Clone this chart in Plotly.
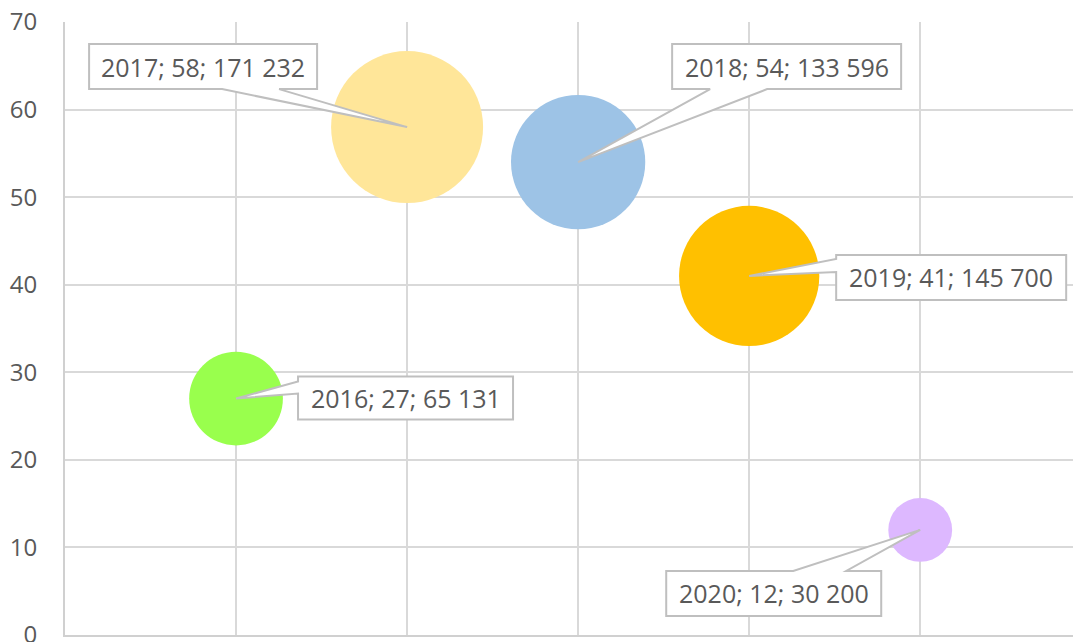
import plotly.graph_objects as go

# ---- data ----
years = [2016, 2017, 2018, 2019, 2020]
values = [27, 58, 54, 41, 12]
volumes = [65131, 171232, 133596, 145700, 30200]
labels = ["2016; 27; 65 131", "2017; 58; 171 232", "2018; 54; 133 596",
          "2019; 41; 145 700", "2020; 12; 30 200"]
colors = ["#99FF4D", "#FFE699", "#9DC3E6", "#FFC000", "#DDB8FF"]

# ---- layout geometry (page body has an 8px margin) ----
W, H = 1073, 634
ML, MR, MT, MB = 57, 0, 14, 7
XR = [2015, 2020.94]
YR = [0, 70]
plot_w = W - ML - MR
plot_h = H - MT - MB
pxx = plot_w / (XR[1] - XR[0])
pxy = plot_h / (YR[1] - YR[0])

# callout boxes relative to the point in pixels: (left, right, top, bottom), wedge edge, base positions
callouts = [
    ((62, 277, -22, 21), "left", (-17, -5)),
    ((-318, -90, -83, -38), "bottom", (-185, -128)),
    ((94, 323, -118, -73), "bottom", (132, 189)),
    ((87, 317, -21, 24), "left", (-17, -4)),
    ((-254, -39, 41, 86), "top", (-127, -74)),
]

FONT = "Open Sans"
TXT = "#595959"

sizeref = 2 * max(volumes) / (152 ** 2)

fig = go.Figure()
fig.add_trace(go.Scatter(
    x=years, y=values, mode="markers",
    marker=dict(size=volumes, sizemode="area", sizeref=sizeref,
                color=colors, opacity=1, line=dict(width=0)),
    hoverinfo="skip", showlegend=False,
))

shapes = []
annotations = []
for x, y, lab, (box, edge, base) in zip(years, values, labels, callouts):
    l, r, t, b = box
    if edge == "bottom":
        pts = [(l, t), (r, t), (r, b), (base[1], b), (0, 0), (base[0], b), (l, b)]
    elif edge == "left":
        pts = [(l, t), (r, t), (r, b), (l, b), (l, base[1]), (0, 0), (l, base[0])]
    else:  # top
        pts = [(l, t), (base[0], t), (0, 0), (base[1], t), (r, t), (r, b), (l, b)]
    path = ""
    for i, (px, py) in enumerate(pts):
        dx = x + px / pxx
        dy = y - py / pxy
        path += ("M" if i == 0 else "L") + f"{dx:.5f},{dy:.5f}"
    path += "Z"
    shapes.append(dict(type="path", path=path, xref="x", yref="y",
                       fillcolor="white", line=dict(color="#BFBFBF", width=2),
                       layer="above"))
    cx = x + (l + r) / 2 / pxx
    cy = y - (t + b) / 2 / pxy
    annotations.append(dict(x=cx, y=cy, xref="x", yref="y", text=lab,
                            showarrow=False, xanchor="center", yanchor="middle",
                            font=dict(family=FONT, size=25, color=TXT)))

fig.update_layout(
    width=W, height=H,
    margin=dict(l=ML, r=MR, t=MT, b=MB, pad=0, autoexpand=False),
    paper_bgcolor="white", plot_bgcolor="white",
    shapes=shapes, annotations=annotations,
    xaxis=dict(range=XR, dtick=1, tick0=2015, showticklabels=False,
               showgrid=True, gridcolor="#D9D9D9", gridwidth=2,
               showline=True, linecolor="#D0D0D0", linewidth=2,
               zeroline=False, ticks="", automargin=False),
    yaxis=dict(range=YR, dtick=10, tick0=0, showgrid=True,
               gridcolor="#D9D9D9", gridwidth=2,
               showline=True, linecolor="#D0D0D0", linewidth=2,
               zeroline=False, ticks="", ticklabelstandoff=21, automargin=False,
               ticklabeloverflow="allow",
               tickfont=dict(family=FONT, size=24, color=TXT)),
    font=dict(family=FONT, color=TXT),
)

fig.write_html("out.html")
